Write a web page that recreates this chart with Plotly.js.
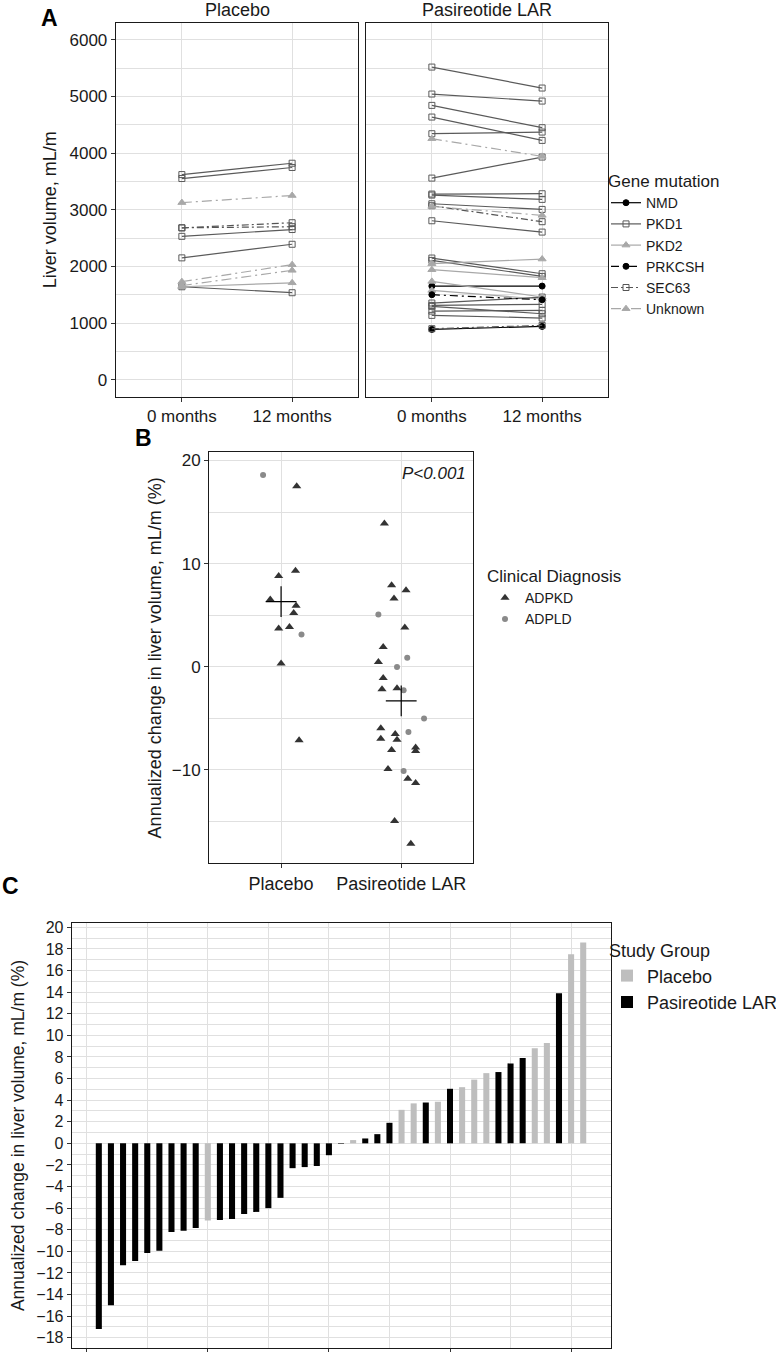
<!DOCTYPE html>
<html>
<head>
<meta charset="utf-8">
<script src="https://cdn.plot.ly/plotly-3.0.1.min.js"></script>
<style>html,body{margin:0;padding:0;background:#fff;overflow:hidden;}#chart{width:776px;height:1352px;}</style>
</head>
<body>
<div id="chart"></div>
<script>
// ---------- DATA ----------
const timeLabels = ['0 months', '12 months'];
const groupLabels = ['Placebo', 'Pasireotide LAR'];
const geneOrder = ['NMD', 'PKD1', 'PKD2', 'PRKCSH', 'SEC63', 'Unknown'];

// Panel A – liver volume (mL/m) at 0 and 12 months
const plaGene  = ['PKD1','PKD1','Unknown','SEC63','SEC63','PKD1','PKD1','Unknown','Unknown','PKD2','PKD1'];
const plaVol0  = [3620, 3550, 3125, 2680, 2680, 2530, 2150, 1730, 1660, 1640, 1640];
const plaVol12 = [3820, 3745, 3250, 2770, 2700, 2650, 2390, 2030, 1930, 1710, 1535];

const pasGene  = ['PKD1','PKD1','PKD1','PKD1','PKD1','Unknown','PKD1','PKD1','PKD1','PKD1','SEC63','Unknown','PKD1','PKD1','PKD1','PKD2','PKD2','PKD2','NMD','PKD2','PRKCSH','PKD1','PKD1','PKD1','PKD1','PKD1','NMD','SEC63'];
const pasVol0  = [5517, 5041, 4841, 4635, 4341, 4253, 3558, 3276, 3258, 3105, 3070, 3058, 2805, 2147, 2105, 2047, 1941, 1735, 1652, 1576, 1500, 1353, 1311, 1294, 1211, 1135, 888, 900];
const pasVol12 = [5147, 4917, 4447, 4223, 4370, 3941, 3929, 3282, 3182, 3005, 2788, 2900, 2605, 1870, 1823, 2129, 1800, 1460, 1652, 1420, 1411, 1458, 1329, 1164, 1223, 1088, 941, 958];

// Panels B & C – annualized change in liver volume (%)
const plaChange = [18.6, 17.5, 8.8, 9.3, 6.5, 5.9, 5.2, 3.7, 3.85, 3.1, 0.3, -7.15];
const plaDx     = ['ADPLD','ADPKD','ADPKD','ADPKD','ADPKD','ADPKD','ADPKD','ADPKD','ADPKD','ADPLD','ADPKD','ADPKD'];
const plaJitter = [-0.15, 0.13, -0.02, 0.12, -0.09, 0.125, 0.105, -0.02, 0.07, 0.17, 0.0, 0.15];

const pasChange = [13.9, 7.9, 7.4, 6.6, 5.05, 3.78, 1.9, 0.85, 0.45, -0.05, -1.1, -2.2, -2.1, -2.3, -5.05, -6.0, -6.35, -6.55, -7.0, -7.1, -7.85, -8.1, -8.2, -9.95, -10.15, -10.9, -11.3, -15.0, -17.2];
const pasDx     = ['ADPKD','ADPKD','ADPKD','ADPKD','ADPLD','ADPKD','ADPKD','ADPLD','ADPKD','ADPLD','ADPKD','ADPKD','ADPKD','ADPLD','ADPLD','ADPKD','ADPLD','ADPKD','ADPKD','ADPKD','ADPKD','ADPKD','ADPKD','ADPKD','ADPLD','ADPKD','ADPKD','ADPKD','ADPKD'];
const pasJitter = [-0.14, -0.08, 0.04, -0.06, -0.19, 0.03, -0.15, 0.05, -0.19, -0.035, -0.15, -0.16, -0.035, 0.02, 0.19, -0.17, 0.06, -0.05, -0.17, -0.035, 0.12, -0.08, 0.12, -0.11, 0.02, 0.055, 0.12, -0.055, 0.08];
const pValueText = 'P<0.001';

// ---------- STYLES ----------
const FONT = 'Liberation Sans, Arial, Helvetica, sans-serif';
const W = 776, H = 1352;
const px = v => v / W;
const py = v => 1 - v / H;
const GRID = '#e0e0e0';
const geneStyle = {
  NMD:     {color: '#000000', dash: 'solid',            symbol: 'circle',      size: 6},
  PKD1:    {color: '#5a5a5a', dash: 'solid',            symbol: 'square-open', size: 6},
  PKD2:    {color: '#a8a8a8', dash: 'solid',            symbol: 'triangle-up', size: 7},
  PRKCSH:  {color: '#000000', dash: '8px,4px,2px,4px',  symbol: 'circle',      size: 6},
  SEC63:   {color: '#555555', dash: '7px,3px,2px,3px',  symbol: 'square-open', size: 6},
  Unknown: {color: '#a8a8a8', dash: '10px,4px,2px,4px', symbol: 'triangle-up', size: 7}
};

const traces = [];

// Panel A traces (one trace per gene per facet, lines separated by nulls)
const facets = [
  {gene: plaGene, v0: plaVol0, v12: plaVol12, xa: 'x', ya: 'y'},
  {gene: pasGene, v0: pasVol0, v12: pasVol12, xa: 'x2', ya: 'y2'}
];
const shown = {};
geneOrder.forEach(g => {
  facets.forEach(f => {
    const xs = [], ys = [];
    f.gene.forEach((gg, i) => {
      if (gg === g) { xs.push(1, 2, null); ys.push(f.v0[i], f.v12[i], null); }
    });
    if (!xs.length) return;
    const s = geneStyle[g];
    traces.push({
      type: 'scatter', mode: 'lines+markers', name: g,
      x: xs, y: ys, xaxis: f.xa, yaxis: f.ya,
      line: {color: s.color, width: 1.2, dash: s.dash},
      marker: {symbol: s.symbol, size: s.size, color: s.color, line: {color: s.color, width: 1}},
      connectgaps: false, legend: 'legend', showlegend: !shown[g]
    });
    shown[g] = true;
  });
});

// Panel B traces
const dxStyle = {
  ADPKD: {symbol: 'triangle-up', size: 8, color: '#333333'},
  ADPLD: {symbol: 'circle', size: 6, color: '#8a8a8a'}
};
['ADPKD', 'ADPLD'].forEach(dx => {
  const xs = [], ys = [];
  plaDx.forEach((d, i) => { if (d === dx) { xs.push(1 + plaJitter[i]); ys.push(plaChange[i]); } });
  pasDx.forEach((d, i) => { if (d === dx) { xs.push(2 + pasJitter[i]); ys.push(pasChange[i]); } });
  const s = dxStyle[dx];
  traces.push({
    type: 'scatter', mode: 'markers', name: dx, x: xs, y: ys, xaxis: 'x3', yaxis: 'y3',
    marker: {symbol: s.symbol, size: s.size, color: s.color}, legend: 'legend2'
  });
});
const mean = a => a.reduce((s, v) => s + v, 0) / a.length;
traces.push({
  type: 'scatter', mode: 'markers', name: 'Mean', x: [1, 2], y: [mean(plaChange), mean(pasChange)],
  xaxis: 'x3', yaxis: 'y3', showlegend: false,
  marker: {symbol: 'cross-thin', size: 22, color: '#000', line: {color: '#000', width: 1.2}}
});

// Panel C traces (waterfall ranked by change)
const all = [];
plaChange.forEach(v => all.push({v, g: 0}));
pasChange.forEach(v => all.push({v, g: 1}));
all.sort((a, b) => a.v - b.v);
const barColors = ['#bebebe', '#000000'];
[0, 1].forEach(g => {
  const xs = [], ys = [];
  all.forEach((d, i) => { if (d.g === g) { xs.push(i + 1); ys.push(d.v); } });
  traces.push({
    type: 'bar', name: groupLabels[g], x: xs, y: ys, xaxis: 'x4', yaxis: 'y4',
    width: 0.5, marker: {color: barColors[g], line: {width: 0}}, legend: 'legend3'
  });
});

// ---------- LAYOUT ----------
const baseAxis = {
  showline: true, mirror: true, linecolor: '#1a1a1a', linewidth: 1,
  ticks: 'outside', ticklen: 4, tickcolor: '#333', tickwidth: 1,
  showgrid: true, gridcolor: GRID, gridwidth: 1, zeroline: false, automargin: false,
  tickfont: {size: 17, color: '#1a1a1a'}, fixedrange: true
};
const yA = [py(396.7), py(22.7)];
const ann = (text, x, y, size, extra) => Object.assign({
  text, x: px(x), y: py(y), xref: 'paper', yref: 'paper', xanchor: 'center', yanchor: 'middle',
  showarrow: false, font: {size, color: '#000'}
}, extra || {});
const layout = {
  width: W, height: H, autosize: false,
  margin: {l: 0, r: 0, t: 0, b: 0, pad: 0, autoexpand: false},
  paper_bgcolor: '#fff', plot_bgcolor: '#fff',
  font: {family: FONT, color: '#1a1a1a'},
  barmode: 'overlay',
  xaxis: Object.assign({}, baseAxis, {domain: [px(115.7), px(358.3)], anchor: 'y', range: [0.4, 2.6], tickvals: [1, 2], ticktext: timeLabels}),
  yaxis: Object.assign({}, baseAxis, {domain: yA, anchor: 'x', range: [-300, 6300], tick0: 0, dtick: 1000,
    minor: {dtick: 500, showgrid: true, gridcolor: GRID, gridwidth: 1, ticks: ''},
    title: {text: 'Liver volume, mL/m', font: {size: 18}, standoff: 8}}),
  xaxis2: Object.assign({}, baseAxis, {domain: [px(365.7), px(608.3)], anchor: 'y2', range: [0.4, 2.6], tickvals: [1, 2], ticktext: timeLabels}),
  yaxis2: Object.assign({}, baseAxis, {domain: yA, anchor: 'x2', range: [-300, 6300], tick0: 0, dtick: 1000,
    minor: {dtick: 500, showgrid: true, gridcolor: GRID, gridwidth: 1, ticks: ''},
    showticklabels: false, ticks: ''}),
  xaxis3: Object.assign({}, baseAxis, {domain: [px(209), px(473.3)], anchor: 'y3', range: [0.4, 2.6], tickvals: [1, 2], ticktext: groupLabels,
    tickfont: {size: 18, color: '#1a1a1a'}}),
  yaxis3: Object.assign({}, baseAxis, {domain: [py(863.3), py(452.3)], anchor: 'x3', range: [-19.1, 20.8], tick0: 0, dtick: 10,
    minor: {dtick: 5, showgrid: true, gridcolor: GRID, gridwidth: 1, ticks: ''},
    title: {text: 'Annualized change in liver volume, mL/m (%)', font: {size: 18}, standoff: 5}}),
  xaxis4: Object.assign({}, baseAxis, {domain: [px(71.7), px(610.7)], anchor: 'y4', range: [-1.24, 43.27], tick0: 0, dtick: 10,
    minor: {dtick: 5, showgrid: true, gridcolor: GRID, gridwidth: 1, ticks: ''}, showticklabels: false}),
  yaxis4: Object.assign({}, baseAxis, {domain: [py(1348.3), py(922.7)], anchor: 'x4', range: [-18.98, 20.43], tick0: 0, dtick: 2,
    minor: {dtick: 1, showgrid: true, gridcolor: GRID, gridwidth: 1, ticks: ''},
    tickfont: {size: 16, color: '#1a1a1a'},
    title: {text: 'Annualized change in liver volume, mL/m (%)', font: {size: 17.5}, standoff: 7}}),
  legend: {x: px(606), y: py(165), xanchor: 'left', yanchor: 'top', bgcolor: 'rgba(0,0,0,0)',
    title: {text: 'Gene mutation', font: {size: 17}}, font: {size: 14}, traceorder: 'normal', tracegroupgap: 0},
  legend2: {x: px(485), y: py(560), xanchor: 'left', yanchor: 'top', bgcolor: 'rgba(0,0,0,0)',
    title: {text: 'Clinical Diagnosis', font: {size: 17}}, font: {size: 14}, traceorder: 'normal'},
  legend3: {x: px(607), y: py(934), xanchor: 'left', yanchor: 'top', bgcolor: 'rgba(0,0,0,0)',
    title: {text: 'Study Group', font: {size: 18}}, font: {size: 18}, traceorder: 'normal'},
  annotations: [
    ann('<b>A</b>', 50, 18, 23),
    ann('<b>B</b>', 143, 438, 23),
    ann('<b>C</b>', 10, 886, 23),
    ann(groupLabels[0], 237, 10, 18, {font: {size: 18, color: '#1a1a1a'}}),
    ann(groupLabels[1], 487, 10, 18, {font: {size: 18, color: '#1a1a1a'}}),
    ann('<i>' + pValueText + '</i>', 468, 473, 17, {xanchor: 'right', font: {size: 17, color: '#1a1a1a'}})
  ]
};

Plotly.newPlot('chart', traces, layout, {staticPlot: true, displayModeBar: false});
</script>
</body>
</html>
